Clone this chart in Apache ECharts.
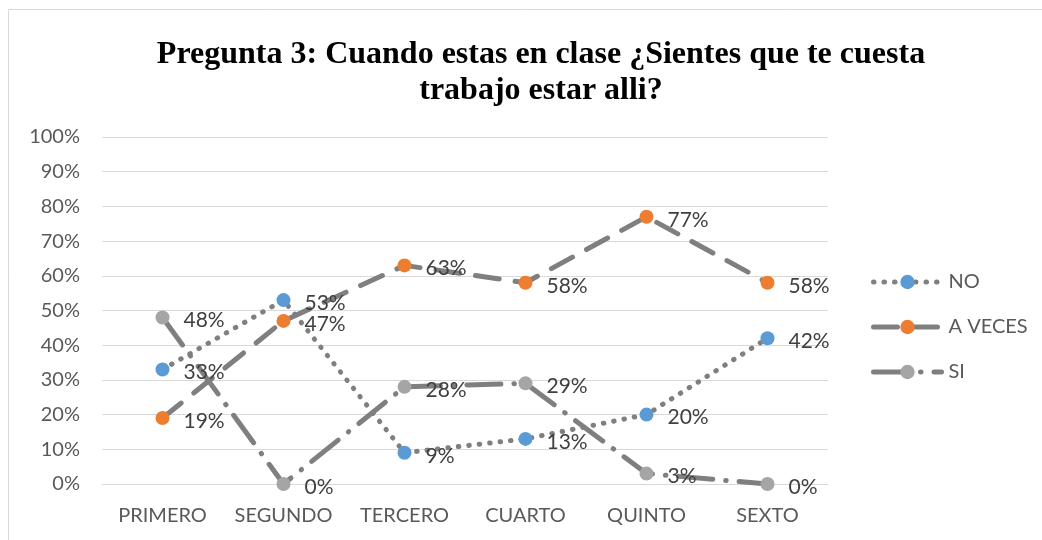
<!DOCTYPE html>
<html><head><meta charset="utf-8">
<script src="https://cdn.jsdelivr.net/npm/echarts@6/dist/echarts.min.js"></script>
<style>html,body{margin:0;padding:0;background:#fff}#c{width:1042px;height:540px}</style>
</head><body><div id="c"></div>
<script>
const categories = ['PRIMERO','SEGUNDO','TERCERO','CUARTO','QUINTO','SEXTO'];
const seriesNames = ['NO','A VECES','SI'];
const valuesNO = [33,53,9,13,20,42];
const valuesAVeces = [19,47,63,58,77,58];
const valuesSI = [48,0,28,29,3,0];
const yTicks = [0,10,20,30,40,50,60,70,80,90,100];

const chart = echarts.init(document.getElementById('c'));
const lineColor = '#7f7f7f';
const font = 'Lato, "Open Sans", sans-serif';
function mk(name, data, color, dash) {
  return {
    name, type: 'line', data, symbol: 'circle', symbolSize: 14,
    itemStyle: { color },
    lineStyle: { color: lineColor, width: 5, type: dash, cap: 'round' },
    label: { show: true, position: 'right', distance: 14, offset: [0, 3],
      formatter: p => p.value + '%', color: '#404040', fontSize: 21, fontFamily: font },
    emphasis: { disabled: true }, animation: false
  };
}
chart.setOption({
  animation: false,
  graphic: [{ type: 'rect', shape: { x: 8.5, y: 9.5, width: 1100, height: 600 },
    style: { fill: 'none', stroke: '#d9d9d9', lineWidth: 1 }, silent: true }],
  title: { text: 'Pregunta 3: Cuando estas en clase ¿Sientes que te cuesta\ntrabajo estar alli?',
    left: 536, top: 32, textAlign: 'center',
    textStyle: { fontFamily: '"Liberation Serif", "Times New Roman", serif', fontWeight: 'bold',
      fontSize: 32, color: '#000', lineHeight: 36 } },
  legend: { orient: 'vertical', left: 866, top: 267, itemGap: 25, itemWidth: 68, itemHeight: 18,
    data: seriesNames, lineStyle: { width: 5, cap: 'round' },
    textStyle: { fontFamily: font, fontSize: 20, color: '#595959', padding: [0,0,0,2] } },
  grid: { left: 102, right: 214, top: 137, bottom: 56 },
  xAxis: { type: 'category', data: categories, boundaryGap: true,
    axisLine: { lineStyle: { color: '#d9d9d9', width: 1 } }, axisTick: { show: false },
    axisLabel: { interval: 0, color: '#595959', fontSize: 20, fontFamily: font, margin: 22 } },
  yAxis: { type: 'value', min: 0, max: 100, interval: 10,
    axisLabel: { formatter: v => yTicks.includes(v) ? v + '%' : '', color: '#595959', fontSize: 20, fontFamily: font, margin: 22 },
    splitLine: { lineStyle: { color: '#d9d9d9', width: 1 } },
    axisLine: { show: false }, axisTick: { show: false } },
  series: [
    mk('NO', valuesNO, '#5b9bd5', [0.5, 10]),
    mk('A VECES', valuesAVeces, '#ed7d31', [24, 16]),
    mk('SI', valuesSI, '#a5a5a5', [34, 13, 0.5, 13])
  ]
});
</script></body></html>
